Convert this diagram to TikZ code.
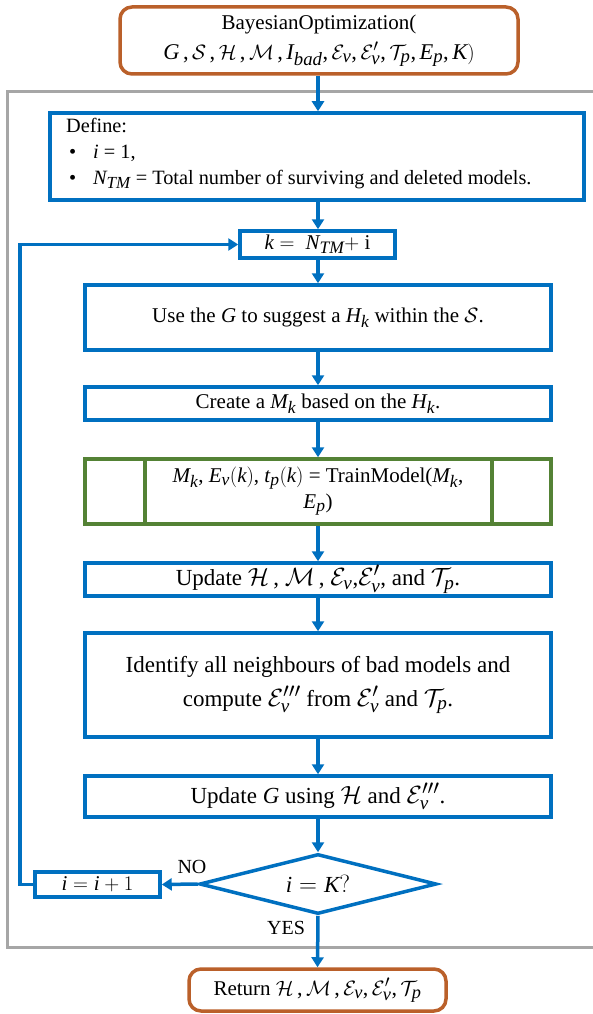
\documentclass[tikz,border=0pt]{standalone}
\usepackage{fontspec}
\setmainfont{Liberation Serif}
\usepackage[italic]{mathastext}
\usetikzlibrary{arrows.meta,shapes.geometric}
\definecolor{myblue}{RGB}{0,112,192}
\definecolor{mygreen}{RGB}{84,130,53}
\definecolor{mybrown}{RGB}{186,96,42}
\definecolor{mygray}{RGB}{166,166,166}
\begin{document}
\begin{tikzpicture}[x=1pt,y=-1pt,
  every node/.style={font=\fontsize{21}{26}\selectfont, inner sep=0pt},
  bbox/.style={draw=myblue, line width=3.5pt, align=center},
  gbox/.style={draw=mygreen, line width=3.5pt, align=center},
  rbox/.style={draw=mybrown, line width=3.5pt, rounded corners=12pt, align=center},
  cambria/.style={font=\fontsize{23}{30}\selectfont},
  arr/.style={draw=myblue, line width=3.5pt, -{Triangle[length=10pt,width=12pt]}},
  conn/.style={draw=myblue, line width=3.5pt},
  frame/.style={draw=mygray, line width=3pt},
  lbl/.style={font=\fontsize{20}{24}\selectfont}]
\path[use as bounding box] (0,0) rectangle (593,1014);
\clip (0,0) rectangle (593,1014);
% outer gray frame
\draw[frame] (600,92) -- (7.5,92) -- (7.5,947) -- (600,947);
% nodes
\node[rbox, minimum width=398, minimum height=67] (start) at (319,40.5)
  {BayesianOptimization(\\[4pt] \fontsize{22.5}{26}\selectfont $G\,, \mathcal{S}\,, \mathcal{H}\,, \mathcal{M}\,, I_{bad}, \mathcal{E}_v, \mathcal{E}'_v, \mathcal{T}_p, E_p, K)$};
\node[bbox, minimum width=534, minimum height=87] (define) at (317,156.5) {};
\node[anchor=north west, align=left, font=\fontsize{20.3}{26}\selectfont] (definetext) at (66,118)
  {Define:\\
   \hspace*{3pt}\makebox[24pt][l]{\textbullet}$i$ = 1,\\
   \hspace*{3pt}\makebox[24pt][l]{\textbullet}$N_{TM}$ = Total number of surviving and deleted models.};
\node[bbox, minimum width=155, minimum height=27] (kbox) at (317.5,244.5)
  {$k = \ N_{TM} +$ i};
\node[bbox, minimum width=466, minimum height=65] (use) at (318,317.5)
  {Use the $G$ to suggest a $H_k$ within the $\mathcal{S}$.};
\node[bbox, minimum width=466, minimum height=33] (create) at (318,403.5)
  {Create a $M_k$ based on the $H_k$.};
\node[gbox, minimum width=466, minimum height=65] (train) at (318,491.5)
  {$M_k$, $E_v(k)$, $t_p(k)$ = TrainModel($M_k$,\\ $E_p$)};
\coordinate (trainL) at (145,459);
\coordinate (trainR) at (492,459);
\draw[mygreen, line width=3.5pt] (trainL) -- (trainL |- train.south);
\draw[mygreen, line width=3.5pt] (trainR) -- (trainR |- train.south);
\node[bbox, cambria, minimum width=466, minimum height=33] (update) at (318,579.5)
  {Update $\mathcal{H}\,$, $\mathcal{M}\,$, $\mathcal{E}_v$,$\mathcal{E}'_v$, and $\mathcal{T}_p$.};
\node[bbox, cambria, minimum width=466, minimum height=104] (identify) at (318,685)
  {Identify all neighbours of bad models and\\[4pt] compute $\mathcal{E}'''_v$ from $\mathcal{E}'_v$ and $\mathcal{T}_p$.};
\node[bbox, cambria, minimum width=466, minimum height=41] (updateg) at (318,796.5)
  {Update $G$ using $\mathcal{H}$ and $\mathcal{E}'''_v$.};
\node[diamond, draw=myblue, line width=3.5pt, cambria, minimum width=237, minimum height=60, aspect=4] (cond) at (318,884)
  {$i = K?$};
\node[bbox, minimum width=125, minimum height=25] (inc) at (97.5,884.5)
  {$i = i + 1$};
\node[rbox, minimum width=257, minimum height=42] (ret) at (317.5,990)
  {Return \fontsize{22}{26}\selectfont$\mathcal{H}\,, \mathcal{M}\,, \mathcal{E}_v, \mathcal{E}'_v, \mathcal{T}_p$};
\coordinate (loopB) at (20,884.5);
\coordinate (loopT) at (20,244.5);
% connectors
\draw[arr] (start.south -| 318,0) -- (define.north -| 318,0);
\draw[arr] (define.south -| 318,0) -- (kbox.north -| 318,0);
\draw[arr] (kbox.south -| 318,0) -- (use.north -| 318,0);
\draw[arr] (use.south) -- (create.north);
\draw[arr] (create.south) -- (train.north);
\draw[arr] (train.south) -- (update.north);
\draw[arr] (update.south) -- (identify.north);
\draw[arr] (identify.south) -- (updateg.north);
\draw[arr] (updateg.south) -- (cond.north);
\draw[arr] (cond.west) -- (inc.east);
\draw[arr] (cond.south) -- (ret.north);
\draw[arr] (inc.west) -- (loopB) -- (loopT) -- (kbox.west);
% labels
\node[lbl] (nolbl) at (192,867) {NO};
\node[lbl] (yeslbl) at (286,928) {YES};
\end{tikzpicture}
\end{document}
